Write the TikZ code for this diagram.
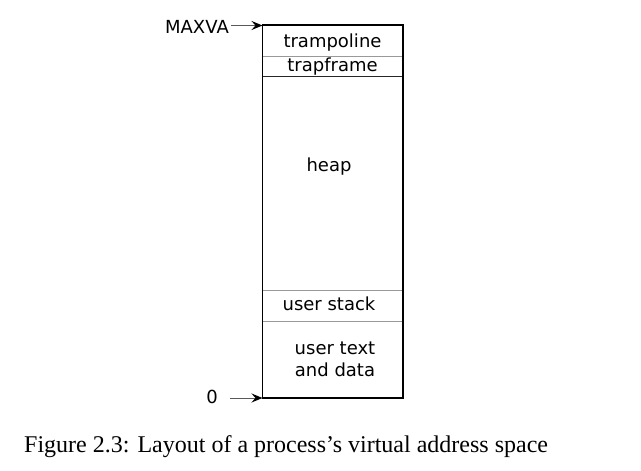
\documentclass[tikz,border=0pt]{standalone}
\usepackage{fontspec}
\setmainfont{Liberation Serif}
\newfontfamily\dvs{DejaVu Sans}
\usetikzlibrary{arrows.meta}
\begin{document}
\begin{tikzpicture}[x=1pt,y=1pt,
  lbl/.style={font=\dvs\fontsize{18}{22}\selectfont, inner sep=0pt, align=center},
  divline/.style={draw=gray!80, line width=0.9pt},
  ptr/.style={draw=gray!70!black, line width=1pt, -{Stealth[length=11pt,width=9pt,inset=4pt,color=black,fill=black,line width=1pt]}}]
\useasboundingbox (0,-471) rectangle (641,0);
\coordinate (tl) at (262.5,-25);
\coordinate (br) at (403,-398);
\draw[divline] (262.5,-56.5) -- (403,-56.5);
\draw[divline, draw=black!85] (262.5,-76) -- (403,-76);
\draw[divline] (262.5,-290) -- (403,-290);
\draw[divline] (262.5,-321.5) -- (403,-321.5);
\draw[line width=1.1pt] (tl) rectangle (br);
\node[lbl] (tramp) at (332.5,-43) {trampoline};
\node[lbl] (trapf) at (332.5,-67) {trapframe};
\node[lbl] (heap) at (329,-167) {heap};
\node[lbl] (ustack) at (329,-304) {user stack};
\node[lbl] (utext) at (335,-359) {user text\\and data};
\node[lbl, anchor=east] (maxva) at (229,-27) {MAXVA};
\node[lbl] (zero) at (212,-397) {0};
\coordinate (zs) at (230,-398);
\coordinate (zt) at (262.5,-398);
\coordinate (ms) at (231,-25.5);
\coordinate (mt) at (262.5,-25.5);
\draw[ptr] (ms) -- (mt);
\draw[ptr] (zs) -- (zt);
\node[font=\fontsize{24}{28}\selectfont, anchor=base west, inner sep=0pt] (cap) at (24,-452) {Figure 2.3: Layout of a process’s virtual address space};
\end{tikzpicture}
\end{document}
